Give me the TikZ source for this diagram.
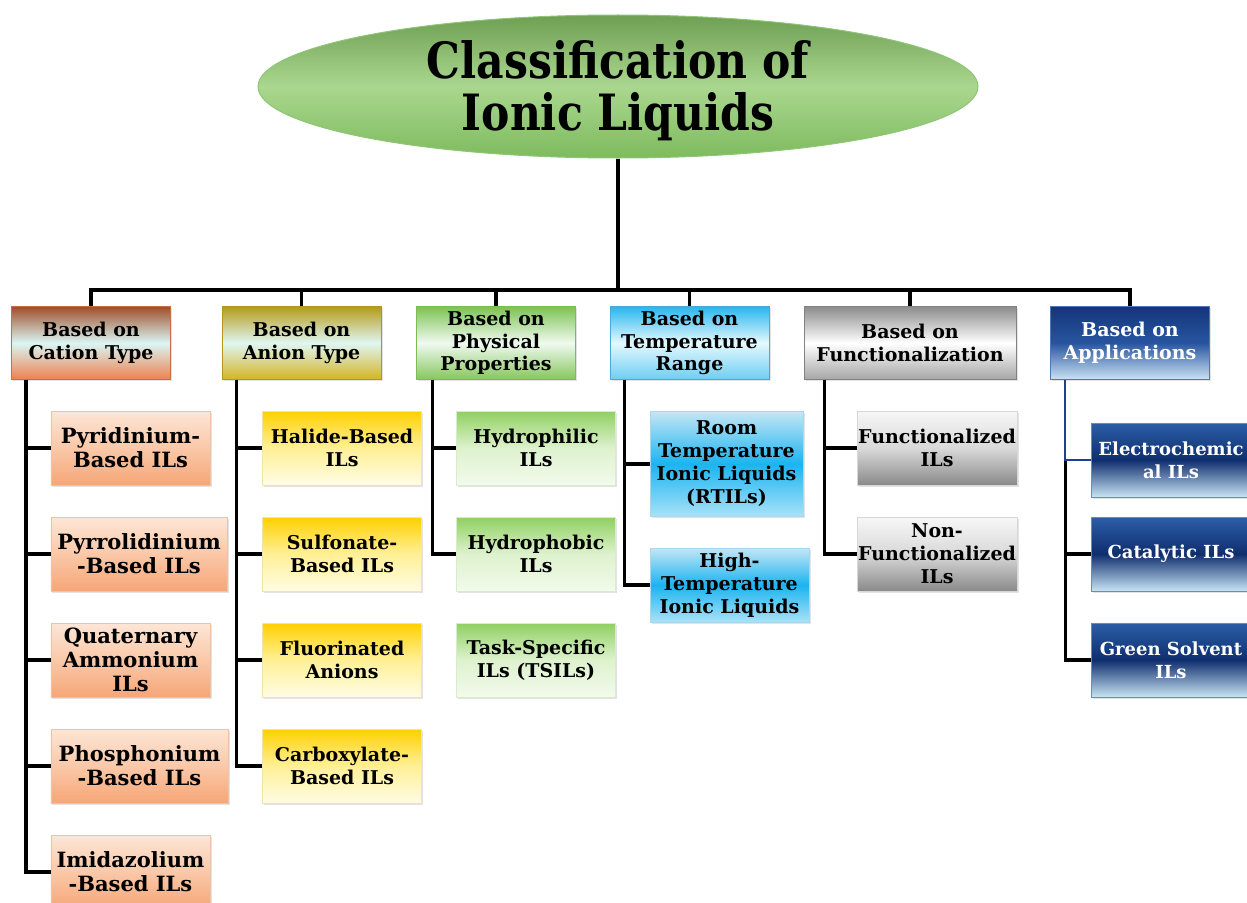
\documentclass[tikz,border=0pt]{standalone}
\usepackage{fontspec}
\setmainfont{DejaVu Serif}
\newfontfamily\titlefont[FakeStretch=0.85]{DejaVu Serif}
\usetikzlibrary{shapes.geometric,shadows}
\definecolor{ttop}{HTML}{6E9F52}
\definecolor{tmid}{HTML}{AAD78F}
\definecolor{tbot}{HTML}{7EBB5E}
\definecolor{tdraw}{HTML}{8FC676}
\definecolor{navyline}{HTML}{1F3F8F}
\begin{document}
\begin{tikzpicture}[x=1bp,y=-1bp,
  box/.style={rectangle, inner sep=0pt, align=center,
    font=\bfseries\fontsize{19bp}{23bp}\selectfont,
    minimum width=159bp, minimum height=74bp, line width=0.8bp,
    drop shadow={opacity=0.22, shadow xshift=1.5bp, shadow yshift=-1.5bp}},
  hdr/.style={box, font=\bfseries\fontsize{19bp}{22.5bp}\selectfont,
    minimum width=159bp, minimum height=73bp},
  conn/.style={line width=3.2bp, black},
  hcat/.style={hdr, draw={rgb,255:red,200;green,110;blue,70}, top color={rgb,255:red,158;green,78;blue,42}, bottom color={rgb,255:red,238;green,128;blue,78}, middle color={rgb,255:red,218;green,246;blue,244}},
  hani/.style={hdr, draw={rgb,255:red,180;green,150;blue,30}, top color={rgb,255:red,181;green,155;blue,26}, bottom color={rgb,255:red,212;green,180;blue,36}, middle color={rgb,255:red,223;green,246;blue,242}},
  hphy/.style={hdr, draw={rgb,255:red,120;green,190;blue,80}, top color={rgb,255:red,124;green,194;blue,83}, bottom color={rgb,255:red,134;green,198;blue,94}, middle color={rgb,255:red,240;green,250;blue,240}},
  htem/.style={hdr, draw={rgb,255:red,70;green,170;blue,220}, top color={rgb,255:red,39;green,182;blue,238}, bottom color={rgb,255:red,110;green,205;blue,242}, middle color={rgb,255:red,228;green,249;blue,254}},
  hfun/.style={hdr, draw={rgb,255:red,130;green,130;blue,130}, top color={rgb,255:red,140;green,140;blue,140}, bottom color={rgb,255:red,166;green,166;blue,166}, middle color=white},
  happ/.style={hdr, text=white, draw={rgb,255:red,80;green,120;blue,180}, top color={rgb,255:red,19;green,53;blue,122}, bottom color={rgb,255:red,203;green,227;blue,243}, middle color={rgb,255:red,40;green,85;blue,160}},
  ccat/.style={box, font=\bfseries\fontsize{21bp}{24bp}\selectfont, draw={rgb,255:red,235;green,195;blue,168}, top color={rgb,255:red,253;green,230;blue,214}, bottom color={rgb,255:red,246;green,166;blue,119}, middle color={rgb,255:red,250;green,200;blue,168}},
  cani/.style={box, draw={rgb,255:red,240;green,228;blue,170}, top color={rgb,255:red,255;green,208;blue,0}, bottom color={rgb,255:red,255;green,252;blue,228}, middle color={rgb,255:red,255;green,240;blue,150}},
  cphy/.style={box, draw={rgb,255:red,216;green,235;blue,203}, top color={rgb,255:red,143;green,208;blue,96}, bottom color={rgb,255:red,243;green,250;blue,236}, middle color={rgb,255:red,222;green,242;blue,206}},
  ctem/.style={box, draw={rgb,255:red,170;green,215;blue,235}, top color={rgb,255:red,196;green,230;blue,245}, bottom color={rgb,255:red,168;green,226;blue,248}, middle color={rgb,255:red,27;green,180;blue,240}},
  cfun/.style={box, draw={rgb,255:red,215;green,215;blue,215}, top color={rgb,255:red,247;green,247;blue,247}, bottom color={rgb,255:red,138;green,138;blue,138}, middle color={rgb,255:red,217;green,217;blue,217}},
  capp/.style={box, font=\bfseries\fontsize{18bp}{23bp}\selectfont, text=white, draw={rgb,255:red,110;green,140;blue,170}, top color={rgb,255:red,43;green,94;blue,168}, bottom color={rgb,255:red,199;green,228;blue,244}, middle color={rgb,255:red,15;green,46;blue,110}}
]
\useasboundingbox (0,0) rectangle (1247,903);

% title
\node[ellipse, inner sep=0pt, minimum width=720bp, minimum height=143bp,
  draw=tdraw, line width=1bp, top color=ttop, bottom color=tbot, middle color=tmid] (title) at (618,86.5) {};
\node[align=center, inner sep=0pt, font=\titlefont\bfseries\fontsize{50bp}{52bp}\selectfont] (titletext) at (618,91) {Classification of\\Ionic Liquids};

% headers
\node[hcat] (h1) at (91,343) {Based on\\Cation Type};
\node[hani] (h2) at (301.5,343) {Based on\\Anion Type};
\node[hphy] (h3) at (496,343) {Based on\\Physical\\Properties};
\node[htem] (h4) at (689.5,343) {Based on\\Temperature\\Range};
\node[hfun, minimum width=212bp] (h5) at (910,343) {Based on\\Functionalization};
\node[happ] (h6) at (1130,343) {Based on\\Applications};

% bus
\coordinate (bus) at (618,290);
\draw[conn] (title.south) -- (bus);
\draw[conn] (h1.north) -- (h1.north |- bus) -- (h6.north |- bus) -- (h6.north);
\foreach \h in {h2,h3,h4,h5} \draw[conn] (\h.north) -- (\h.north |- bus);

% cation children
\node[ccat] (c1) at (130.5,448) {Pyridinium-\\Based ILs};
\node[ccat, minimum width=176bp] (c2) at (139,554) {Pyrrolidinium\\-Based ILs};
\node[ccat] (c3) at (130.5,660) {Quaternary\\Ammonium\\ILs};
\node[ccat, minimum width=177bp] (c4) at (139.5,766) {Phosphonium\\-Based ILs};
\node[ccat] (c5) at (130.5,872) {Imidazolium\\-Based ILs};

% anion children
\node[cani] (a1) at (342,448) {Halide-Based\\ILs};
\node[cani] (a2) at (342,554) {Sulfonate-\\Based ILs};
\node[cani] (a3) at (342,660) {Fluorinated\\Anions};
\node[cani] (a4) at (342,766) {Carboxylate-\\Based ILs};

% physical children
\node[cphy] (p1) at (536,448) {Hydrophilic\\ILs};
\node[cphy] (p2) at (536,554) {Hydrophobic\\ILs};
\node[cphy] (p3) at (536,660) {Task-Specific\\ILs (TSILs)};

% temperature children
\node[ctem, minimum width=153bp, minimum height=105bp] (r1) at (726.5,464) {Room\\Temperature\\Ionic Liquids\\(RTILs)};
\node[ctem] (r2) at (729.5,585) {High-\\Temperature\\Ionic Liquids};

% functionalization children
\node[cfun, minimum width=160bp] (f1) at (937,448) {Functionalized\\ILs};
\node[cfun, minimum width=160bp] (f2) at (937,554) {Non-\\Functionalized\\ILs};

% application children
\node[capp, minimum width=160bp] (e1) at (1171,460) {Electrochemic\\al ILs};
\node[capp, minimum width=160bp] (e2) at (1171,554) {Catalytic ILs};
\node[capp, minimum width=160bp] (e3) at (1171,660) {Green Solvent\\ILs};

% trunks
\coordinate (t1) at ([xshift=15bp]h1.south west);
\coordinate (t2) at ([xshift=15bp]h2.south west);
\coordinate (t3) at ([xshift=16bp]h3.south west);
\coordinate (t4) at ([xshift=15bp]h4.south west);
\coordinate (t5) at ([xshift=21bp]h5.south west);
\coordinate (t6) at ([xshift=15bp]h6.south west);

\foreach \c in {c1,c2,c3,c4,c5} \draw[conn] (t1) |- (\c.west);
\foreach \c in {a1,a2,a3,a4} \draw[conn] (t2) |- (\c.west);
\foreach \c in {p1,p2} \draw[conn] (t3) |- (\c.west);
\foreach \c in {r1,r2} \draw[conn] (t4) |- (\c.west);
\foreach \c in {f1,f2} \draw[conn] (t5) |- (\c.west);
\draw[conn] (t6 |- e1.west) |- (e2.west);
\draw[conn] (t6 |- e1.west) |- (e3.west);
\draw[line width=2.6bp, navyline] (t6) |- (e1.west);
\end{tikzpicture}
\end{document}
